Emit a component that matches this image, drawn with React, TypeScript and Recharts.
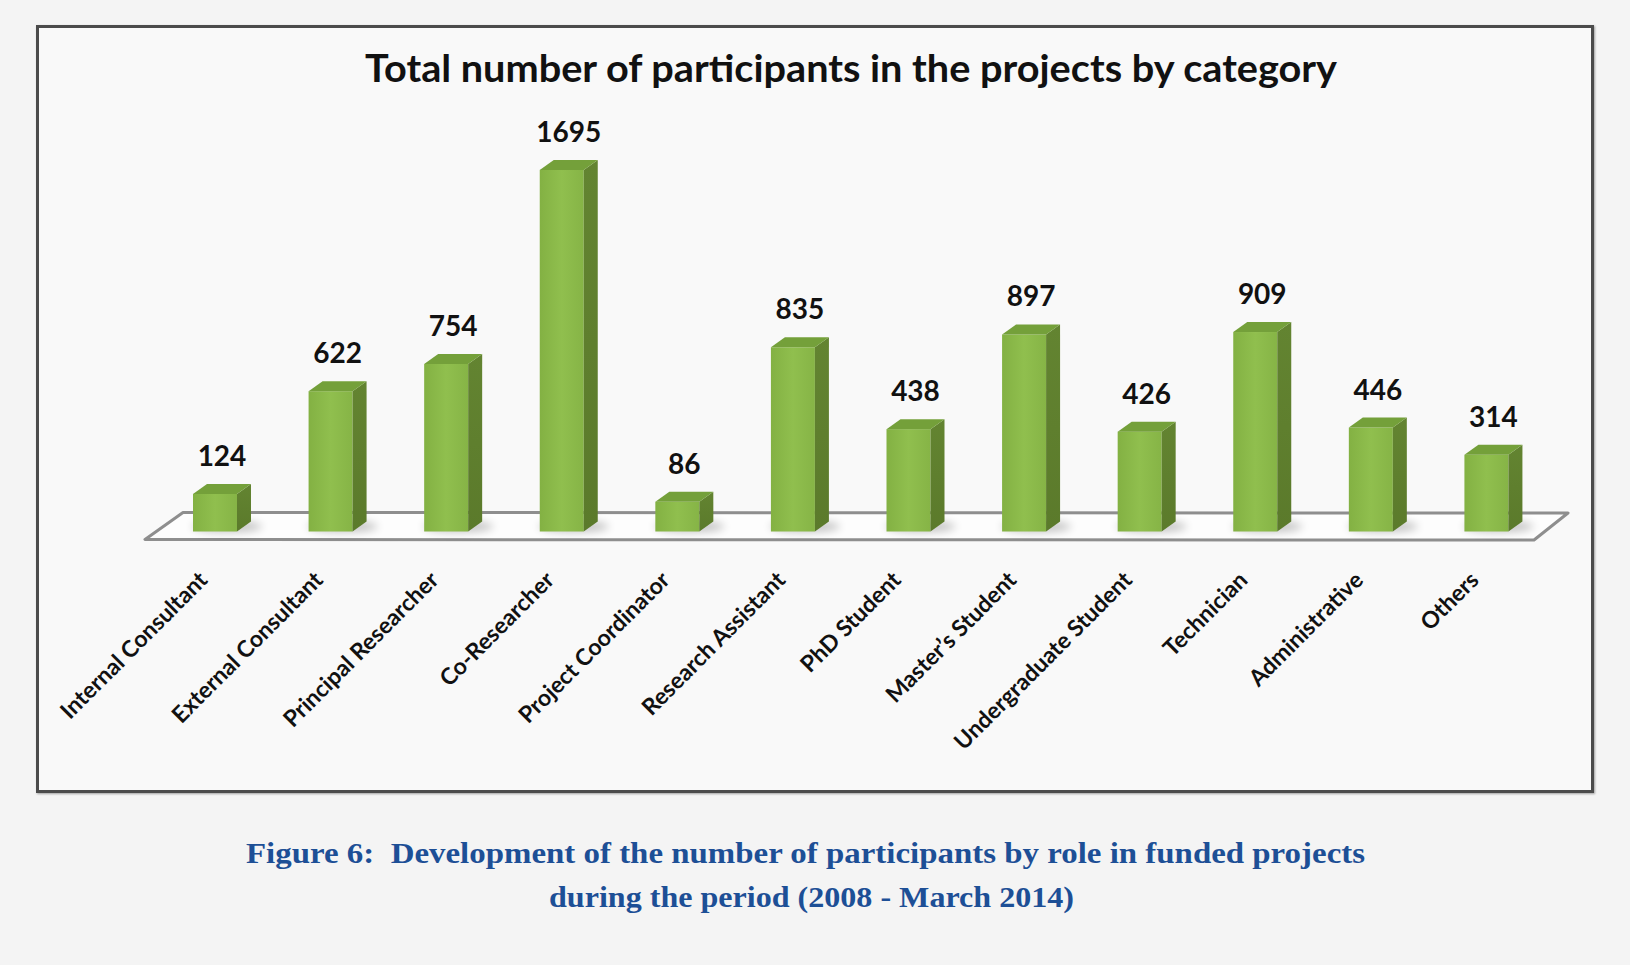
import React from 'react';
import { Bar, BarChart, LabelList, XAxis, YAxis } from 'recharts';

// values
const categories = [
  'Internal Consultant',
  'External Consultant',
  'Principal Researcher',
  'Co-Researcher',
  'Project Coordinator',
  'Research Assistant',
  'PhD Student',
  'Master\u2019s Student',
  'Undergraduate Student',
  'Technician',
  'Administrative',
  'Others',
];
const participants = [124, 622, 754, 1695, 86, 835, 438, 897, 426, 909, 446, 314];

const chartTitle = 'Total number of participants in the projects by category';
const captionLines = [
  'Figure 6:\u00a0 Development of the number of participants by role in funded projects',
  'during the period (2008 - March 2014)',
];

const data = categories.map((name, i) => ({ name, value: participants[i] }));

const W = 1630;
const H = 965;
const DX = 14; // depth of the 3d bars
const DY = 10;
const SINK = 12; // bars reach down onto the floor below the zero line
const SANS = 'Lato, "Open Sans", sans-serif';

const Bar3D = (props: any) => {
  const { x, y, width, height } = props;
  if (width == null || height == null) return null;
  const b = y + height + SINK;
  const h = b - y;
  return (
    <g>
      <ellipse
        cx={x + width / 2 + 12}
        cy={b - 5}
        rx={width * 0.8}
        ry={6}
        fill="#000"
        opacity={0.22}
        filter="url(#barShadow)"
      />
      <rect x={x} y={y} width={width} height={h} fill="url(#frontFace)" />
      <polygon
        points={`${x + width},${y} ${x + width + DX},${y - DY} ${x + width + DX},${b - DY} ${x + width},${b}`}
        fill="url(#sideFace)"
      />
      <polygon
        points={`${x},${y} ${x + DX},${y - DY} ${x + width + DX},${y - DY} ${x + width},${y}`}
        fill="#74a03a"
      />
    </g>
  );
};

const ValueLabel = (props: any) => {
  const { x, y, width, value } = props;
  return (
    <text
      x={x + width / 2 + DX / 2}
      y={y - 28}
      textAnchor="middle"
      fontFamily={SANS}
      fontWeight={700}
      fontSize={28}
      fill="#111"
    >
      {value}
    </text>
  );
};

const CategoryTick = (props: any) => {
  const { x, y, payload } = props;
  const tx = x - 6;
  const ty = y + 54;
  return (
    <text
      x={tx}
      y={ty}
      transform={`rotate(-45, ${tx}, ${ty})`}
      textAnchor="end"
      fontFamily={SANS}
      fontWeight={700}
      fontSize={23}
      fill="#111"
    >
      {payload.value}
    </text>
  );
};

export default function App() {
  return (
    <div
      style={{
        position: 'absolute',
        left: 0,
        top: 0,
        width: W,
        height: H,
        background: '#f4f4f4',
        overflow: 'hidden',
      }}
    >
      <div
        style={{
          position: 'absolute',
          left: 36,
          top: 25,
          width: 1558,
          height: 768,
          boxSizing: 'border-box',
          border: '3px solid #4b4b4b',
          background: '#f9f9f9',
          boxShadow: '1px 1px 2px rgba(0,0,0,0.35)',
        }}
      />
      <svg width={W} height={H} style={{ position: 'absolute', left: 0, top: 0 }}>
        <defs>
          <linearGradient id="frontFace" x1="0" y1="0" x2="1" y2="0">
            <stop offset="0%" stopColor="#83b143" />
            <stop offset="50%" stopColor="#90bf4e" />
            <stop offset="100%" stopColor="#86b446" />
          </linearGradient>
          <linearGradient id="sideFace" x1="0" y1="0" x2="0" y2="1">
            <stop offset="0%" stopColor="#638431" />
            <stop offset="100%" stopColor="#5b7a2b" />
          </linearGradient>
          <filter id="barShadow" x="-50%" y="-200%" width="200%" height="500%">
            <feGaussianBlur stdDeviation="4" />
          </filter>
        </defs>
        <text
          x={365}
          y={82}
          textLength={972}
          lengthAdjust="spacingAndGlyphs"
          fontFamily={SANS}
          fontWeight={700}
          fontSize={38}
          fill="#111"
        >
          {chartTitle}
        </text>
        <polygon
          points="145,539.5 1534,540 1568,513 183,512.5"
          fill="#fdfdfd"
          stroke="#8e8e8e"
          strokeWidth={3}
          strokeLinejoin="round"
        />
        <text
          x={246}
          y={863}
          textLength={1119}
          lengthAdjust="spacingAndGlyphs"
          fontFamily='"Liberation Serif", "DejaVu Serif", serif'
          fontWeight={700}
          fontSize={30}
          fill="#1d4f96"
        >
          {captionLines[0]}
        </text>
        <text
          x={549}
          y={907}
          textLength={525}
          lengthAdjust="spacingAndGlyphs"
          fontFamily='"Liberation Serif", "DejaVu Serif", serif'
          fontWeight={700}
          fontSize={30}
          fill="#1d4f96"
        >
          {captionLines[1]}
        </text>
      </svg>
      <div style={{ position: 'absolute', left: 0, top: 0 }}>
        <BarChart
          width={W}
          height={H}
          data={data}
          margin={{ top: 107, right: 86, bottom: 415.5, left: 157 }}
        >
          <XAxis
            dataKey="name"
            height={30}
            axisLine={false}
            tickLine={false}
            interval={0}
            tick={<CategoryTick />}
          />
          <YAxis hide width={0} type="number" domain={[0, 2000]} />
          <Bar dataKey="value" barSize={44} shape={Bar3D} isAnimationActive={false}>
            <LabelList dataKey="value" content={ValueLabel} />
          </Bar>
        </BarChart>
      </div>
    </div>
  );
}
